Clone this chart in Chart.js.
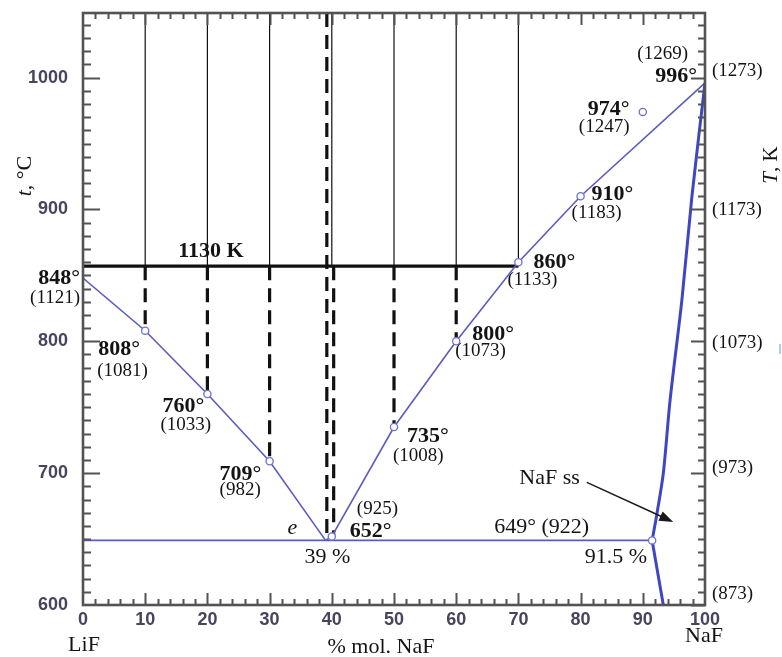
<!DOCTYPE html>
<html>
<head>
<meta charset="utf-8">
<script src="https://cdn.jsdelivr.net/npm/chart.js@4.4.1/dist/chart.umd.min.js"></script>
<style>
  html, body { margin: 0; padding: 0; background: #ffffff; }
  canvas { display: block; }
</style>
</head>
<body>
<canvas id="diagram" width="782" height="657"></canvas>
<script>
// LiF – NaF phase diagram (temperature in °C on the left, K on the right)

// axis ticks
const compositionTicks = [0, 10, 20, 30, 40, 50, 60, 70, 80, 90, 100];   // % mol. NaF
const celsiusTicks = [600, 700, 800, 900, 1000];
const kelvinTicks = [873, 973, 1073, 1173, 1273];
const K0 = 273;
const tMin = 600, tMax = 1049;

// measured liquidus points (% mol. NaF, °C)
const pointsX = [0, 10, 20, 30, 40, 50, 60, 70, 80, 90, 100];
const pointsT = [848, 808, 760, 709, 652, 735, 800, 860, 910, 974, 996];

// eutectic
const eutecticX = 39;
const eutecticT = 649;
const eutecticEndX = 91.5;   // limit of the NaF solid solution

// NaF solid-solution boundary
const solidusX = [100, 97.9, 96.3, 94.4, 93.3, 92.3, 91.5];
const solidusT = [996, 910, 832, 756, 700, 670, 649];
const solvusX = [91.5, 93.3];
const solvusT = [649, 600];

// isotherm and the vertical sections
const isothermK = 1130;
const isothermEndX = 70;
const sectionX = [10, 20, 30, 40, 50, 60, 70];

const pt = (x, y) => ({ x, y });
const zip = (xs, ys) => xs.map((x, i) => pt(x, ys[i]));
const isothermC = isothermK - K0;

const blue = '#5a5dbd';
const axisGrey = '#535353';
const tickColor = '#48445c';

// liquidus branches
const liqLeft = [...zip(pointsX.slice(0, 4), pointsT.slice(0, 4)), pt(eutecticX, eutecticT)];
const liqRight = [pt(eutecticX, eutecticT), ...zip(pointsX.slice(4, 9), pointsT.slice(4, 9)), pt(pointsX[10], pointsT[10])];
const circles = [...zip(pointsX.slice(1, 10), pointsT.slice(1, 10)), pt(eutecticEndX, eutecticT)];

// thin verticals above the isotherm
const thinVerticals = [];
sectionX.forEach(x => { thinVerticals.push(pt(x, tMax), pt(x, isothermC), pt(x, null)); });

// dashed verticals below the isotherm, down to the liquidus
const dashedVerticals = [];
[1, 2, 3, 4, 5, 6].forEach(i => {
  const x = pointsX[i] + (i === 4 ? 0.3 : 0);
  dashedVerticals.push(pt(x, isothermC), pt(x, pointsT[i]), pt(x, null));
});
dashedVerticals.push(pt(eutecticX + 0.2, tMax), pt(eutecticX + 0.2, pointsT[4]), pt(eutecticX, null));

const lineDefaults = { showLine: true, pointRadius: 0, fill: false, tension: 0, spanGaps: false };

const datasets = [
  { ...lineDefaults, data: thinVerticals, borderColor: '#111', borderWidth: 1.2, order: 6 },
  { ...lineDefaults, data: dashedVerticals, borderColor: '#111', borderWidth: 3.2, borderDash: [14, 8], order: 5 },
  { ...lineDefaults, data: [pt(0, isothermC), pt(isothermEndX, isothermC)], borderColor: '#111', borderWidth: 3.2, order: 4 },
  { ...lineDefaults, data: [pt(0, eutecticT), pt(eutecticEndX, eutecticT)], borderColor: blue, borderWidth: 1.6, order: 3 },
  { ...lineDefaults, data: liqLeft, borderColor: blue, borderWidth: 1.6, order: 3 },
  { ...lineDefaults, data: liqRight, borderColor: blue, borderWidth: 1.6, order: 3 },
  { ...lineDefaults, data: zip(solidusX, solidusT), borderColor: '#3f46c2', borderWidth: 3, tension: 0.3, order: 2 },
  { ...lineDefaults, data: zip(solvusX, solvusT), borderColor: '#3f46c2', borderWidth: 3, order: 2 },
  { showLine: false, data: circles, pointRadius: 3.6, pointBorderWidth: 1.3,
    pointBorderColor: '#6d6fd6', pointBackgroundColor: '#ffffff', order: 1 }
];

// label placement around each measured point: [dx, dy, align] in pixels
const pointLabelLayout = [
  { t: [-3, 0, 'right'],  k: [-3, 20, 'right'] },
  { t: [-47, 19, 'left'], k: [-48, 40, 'left'] },
  { t: [-45, 12, 'left'], k: [-47, 31, 'left'] },
  { t: [-50, 13, 'left'], k: [-50, 29, 'left'] },
  { t: [18, -5, 'left'],  k: [25, -27, 'left'] },
  { t: [13, 9, 'left'],   k: [-1, 29, 'left'] },
  { t: [16, -7, 'left'],  k: [-1, 10, 'left'] },
  { t: [15, 0, 'left'],   k: [-11, 18, 'left'] },
  { t: [11, -2, 'left'],  k: [-9, 17, 'left'] },
  { t: [-55, -3, 'left'], k: [-64, 15, 'left'] },
  { t: [-8, -7, 'right'], k: [-17, -29, 'right'] }
];
const kelvinNudge = { 873: -11, 973: -5, 1073: 2, 1173: 1, 1273: -7 };

const serif = '"Liberation Serif", "Times New Roman", serif';
const boldFont = 'bold 22px ' + serif;
const smallFont = '19px ' + serif;
const bigFont = '22px ' + serif;

function text(ctx, s, x, y, font, align) {
  ctx.font = font;
  ctx.textAlign = align || 'left';
  ctx.textBaseline = 'middle';
  ctx.fillStyle = '#141414';
  ctx.fillText(s, x, y);
}

// draws runs of differently styled text one after another
function runs(ctx, parts, x, y) {
  ctx.textBaseline = 'middle';
  ctx.textAlign = 'left';
  ctx.fillStyle = '#141414';
  let w = 0;
  parts.forEach(([s, f]) => { ctx.font = f; w += ctx.measureText(s).width; });
  let cx = x - w / 2;
  parts.forEach(([s, f]) => { ctx.font = f; ctx.fillText(s, cx, y); cx += ctx.measureText(s).width; });
}

const framePlugin = {
  id: 'frame',
  afterDatasetsDraw(chart) {
    const { ctx, chartArea: a, scales } = chart;
    const sx = scales.x, sy = scales.y, sk = scales.y2;
    ctx.save();

    // tick marks, all pointing into the plot
    ctx.strokeStyle = axisGrey;
    ctx.lineWidth = 2;
    ctx.beginPath();
    for (let v = tMin + 10; v < tMax; v += 10) {
      const py = Math.round(sy.getPixelForValue(v)) + 0.5;
      const major = v % 100 === 0;
      ctx.moveTo(a.left, py); ctx.lineTo(a.left + (major ? 17 : 8), py);
      if (!major) { ctx.moveTo(a.right, py); ctx.lineTo(a.right - 7, py); }
    }
    kelvinTicks.forEach(k => {
      const py = Math.round(sk.getPixelForValue(k)) + 0.5;
      ctx.moveTo(a.right, py); ctx.lineTo(a.right - 14, py);
    });
    for (let v = 2; v < 100; v += 2) {
      const px = Math.round(sx.getPixelForValue(v)) + 0.5;
      const major = v % 10 === 0;
      ctx.moveTo(px, a.bottom); ctx.lineTo(px, a.bottom - (major ? 12 : 6));
      ctx.moveTo(px, a.top); ctx.lineTo(px, a.top + (major ? 12 : 6));
    }
    ctx.stroke();

    // frame
    ctx.lineWidth = 2.6;
    ctx.strokeRect(a.left, a.top, a.right - a.left, a.bottom - a.top);

    // kelvin axis labels
    kelvinTicks.forEach(k => {
      text(ctx, '(' + k + ')', a.right + 7, sk.getPixelForValue(k) + kelvinNudge[k], smallFont, 'left');
    });

    // temperature labels beside the measured points
    pointsX.forEach((x, i) => {
      const px = sx.getPixelForValue(x), py = sy.getPixelForValue(pointsT[i]);
      const L = pointLabelLayout[i];
      text(ctx, pointsT[i] + '°', px + L.t[0], py + L.t[1], boldFont, L.t[2]);
      text(ctx, '(' + (pointsT[i] + K0) + ')', px + L.k[0], py + L.k[1], smallFont, L.k[2]);
    });

    // isotherm label
    text(ctx, isothermK + ' K', sx.getPixelForValue(15.3), sy.getPixelForValue(isothermC) - 15, boldFont, 'left');

    // eutectic labels
    const ex = sx.getPixelForValue(eutecticX), ey = sy.getPixelForValue(eutecticT);
    text(ctx, 'e', ex - 38, ey - 12, 'italic 22px ' + serif, 'left');
    text(ctx, eutecticX + ' %', ex - 21, ey + 17, bigFont, 'left');
    const sxEnd = sx.getPixelForValue(eutecticEndX);
    text(ctx, eutecticT + '° (' + (eutecticT + K0) + ')', sxEnd - 63, ey - 13, bigFont, 'right');
    text(ctx, eutecticEndX + ' %', sxEnd - 5, ey + 17, bigFont, 'right');

    // NaF solid solution label and arrow
    const ax0 = sx.getPixelForValue(81.0), ay0 = sy.getPixelForValue(693);
    const ax1 = sx.getPixelForValue(94.9), ay1 = sy.getPixelForValue(663);
    text(ctx, 'NaF ss', ax0 - 7, ay0 - 4, bigFont, 'right');
    const ang = Math.atan2(ay1 - ay0, ax1 - ax0);
    ctx.strokeStyle = '#1a1a1a';
    ctx.lineWidth = 1.5;
    ctx.beginPath();
    ctx.moveTo(ax0, ay0);
    ctx.lineTo(ax1 - 10 * Math.cos(ang), ay1 - 10 * Math.sin(ang));
    ctx.stroke();
    ctx.fillStyle = '#1a1a1a';
    ctx.beginPath();
    ctx.moveTo(ax1, ay1);
    ctx.lineTo(ax1 - 14 * Math.cos(ang) + 5 * Math.sin(ang), ay1 - 14 * Math.sin(ang) - 5 * Math.cos(ang));
    ctx.lineTo(ax1 - 14 * Math.cos(ang) - 5 * Math.sin(ang), ay1 - 14 * Math.sin(ang) + 5 * Math.cos(ang));
    ctx.closePath();
    ctx.fill();

    // axis titles
    text(ctx, 'LiF', 84, 645, bigFont, 'center');
    text(ctx, '% mol. NaF', 381, 647, bigFont, 'center');
    text(ctx, 'NaF', 704, 636, bigFont, 'center');

    ctx.save();
    ctx.translate(25, 176);
    ctx.rotate(-Math.PI / 2);
    runs(ctx, [['t', 'italic 22px ' + serif], [', °C', '22px ' + serif]], 0, 0);
    ctx.restore();

    ctx.save();
    ctx.translate(771, 165);
    ctx.rotate(-Math.PI / 2);
    runs(ctx, [['T', 'italic 21px ' + serif], [', K', '21px ' + serif]], 0, 0);
    ctx.restore();

    ctx.fillStyle = '#a9cdee';
    ctx.fillRect(779, 344, 2, 10);

    ctx.restore();
  }
};

const tickFont = { family: '"Liberation Sans", Arial, sans-serif', size: 18, weight: 'bold' };
const noEdgePadding = s => { s.paddingTop = 0; s.paddingBottom = 0; s.paddingLeft = 0; s.paddingRight = 0; };

new Chart(document.getElementById('diagram'), {
  type: 'scatter',
  data: { datasets },
  options: {
    responsive: false,
    animation: false,
    devicePixelRatio: 1,
    layout: { padding: { top: 13, left: 0, right: 0, bottom: 0 } },
    plugins: { legend: { display: false }, tooltip: { enabled: false } },
    scales: {
      x: {
        type: 'linear', position: 'bottom', min: 0, max: 100,
        afterBuildTicks: s => { s.ticks = compositionTicks.map(v => ({ value: v })); },
        afterFit: s => { s.height = 52; noEdgePadding(s); },
        grid: { display: false, drawTicks: false },
        border: { display: false },
        ticks: { font: tickFont, color: tickColor, padding: 4, maxRotation: 0, autoSkip: false,
                 callback: v => String(v) }
      },
      y: {
        type: 'linear', position: 'left', min: tMin, max: tMax,
        afterBuildTicks: s => { s.ticks = celsiusTicks.map(v => ({ value: v })); },
        afterFit: s => { s.width = 83; noEdgePadding(s); },
        grid: { display: false, drawTicks: false },
        border: { display: false },
        ticks: { font: tickFont, color: tickColor, padding: 15, callback: v => String(v) }
      },
      y2: {
        type: 'linear', position: 'right', min: tMin + K0, max: tMax + K0,
        afterBuildTicks: s => { s.ticks = kelvinTicks.map(v => ({ value: v })); },
        afterFit: s => { s.width = 77; noEdgePadding(s); },
        grid: { display: false, drawTicks: false },
        border: { display: false },
        ticks: { display: false }
      }
    }
  },
  plugins: [framePlugin]
});
</script>
</body>
</html>
